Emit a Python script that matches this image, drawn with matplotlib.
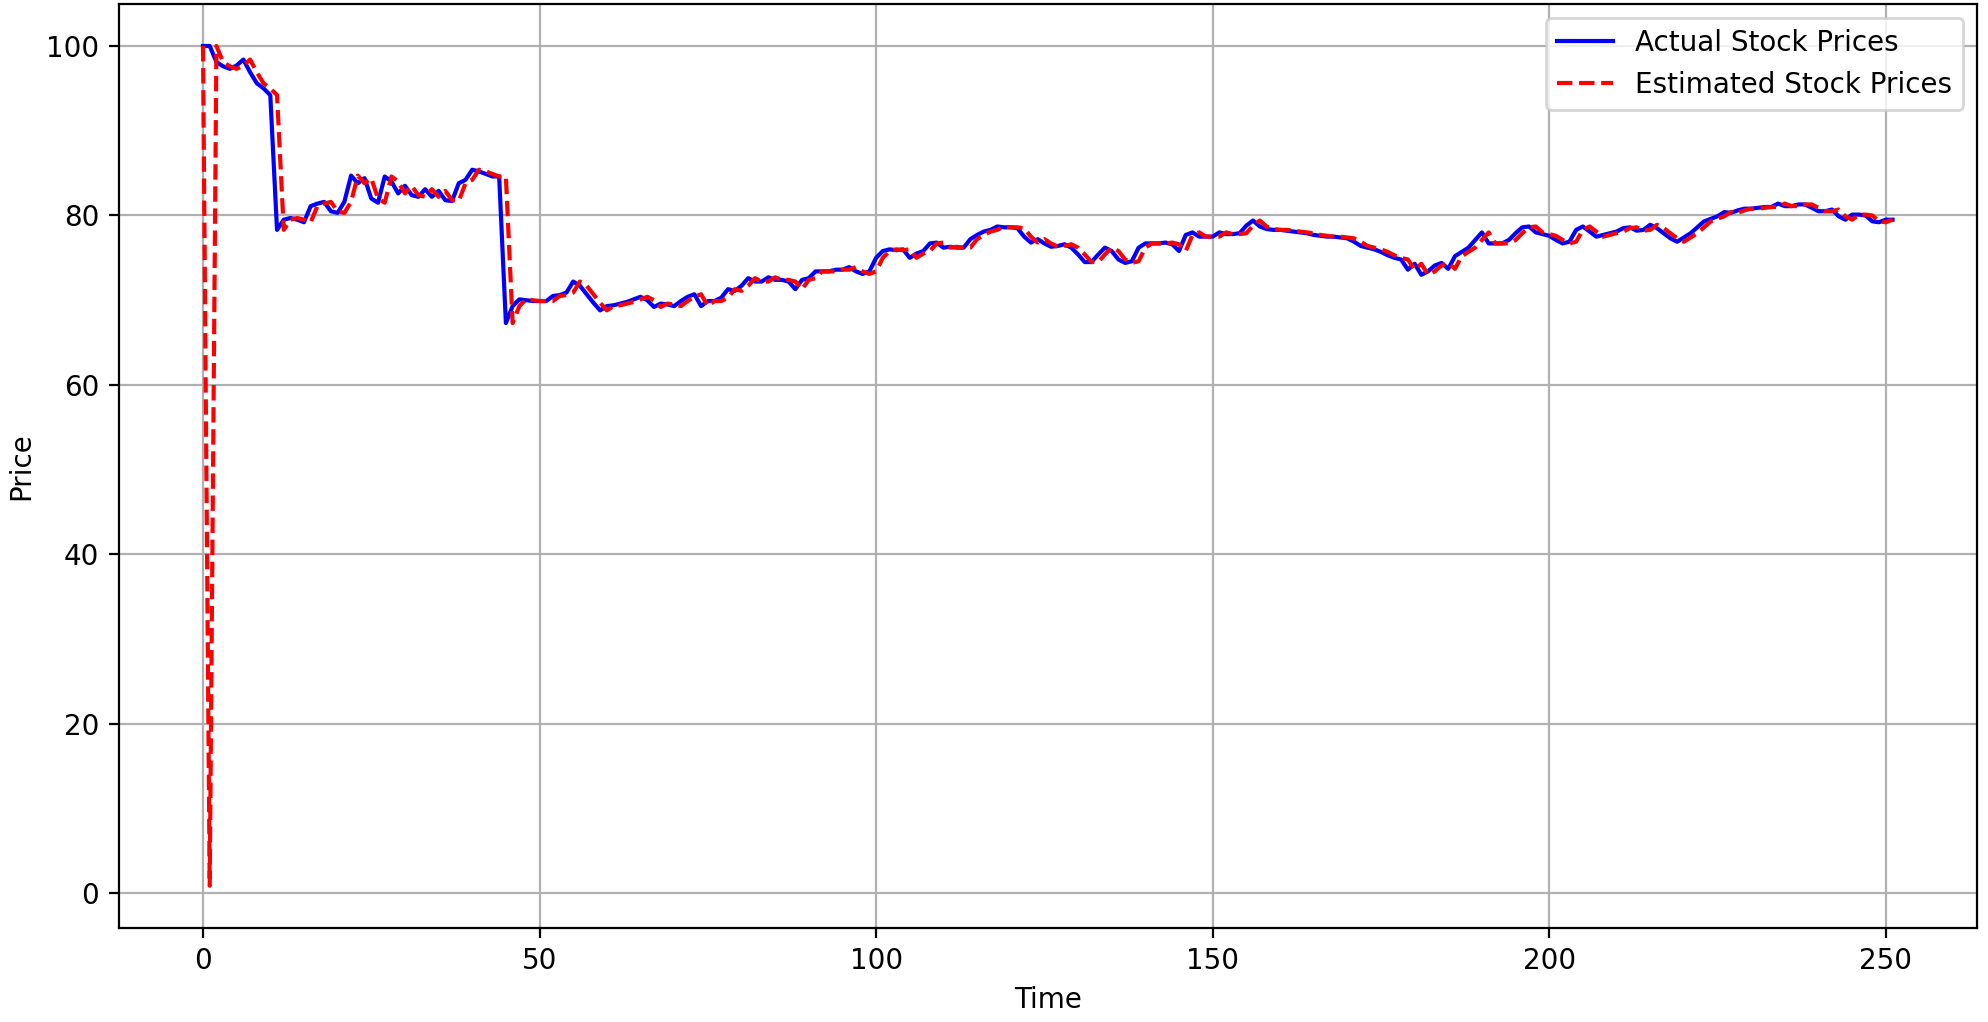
import matplotlib
matplotlib.use("Agg")
import matplotlib.pyplot as plt

actual_prices = [
    100.0, 100.0, 98.1, 97.6, 97.3, 97.7, 98.4, 96.9, 95.6, 95.0,
    94.2, 78.3, 79.5, 79.7, 79.5, 79.2, 81.1, 81.4, 81.6, 80.5,
    80.3, 81.6, 84.7, 83.8, 84.4, 82.0, 81.5, 84.6, 84.0, 82.6,
    83.5, 82.4, 82.2, 83.1, 82.2, 82.9, 81.8, 81.7, 83.8, 84.2,
    85.4, 85.2, 84.9, 84.6, 84.6, 67.3, 69.3, 70.1, 70.0, 69.9,
    69.9, 69.9, 70.5, 70.6, 70.9, 72.2, 71.7, 70.7, 69.7, 68.8,
    69.3, 69.4, 69.6, 69.8, 70.1, 70.4, 70.0, 69.2, 69.6, 69.5,
    69.3, 69.9, 70.4, 70.7, 69.3, 69.9, 69.9, 70.3, 71.3, 71.1,
    71.7, 72.6, 72.2, 72.2, 72.7, 72.4, 72.4, 72.2, 71.3, 72.4,
    72.6, 73.4, 73.4, 73.4, 73.6, 73.6, 73.9, 73.4, 73.1, 73.4,
    75.0, 75.8, 76.0, 75.9, 76.0, 75.0, 75.5, 75.8, 76.7, 76.8,
    76.2, 76.3, 76.2, 76.2, 77.2, 77.7, 78.1, 78.3, 78.7, 78.6,
    78.6, 78.5, 77.5, 76.8, 77.2, 76.7, 76.3, 76.4, 76.6, 76.2,
    75.4, 74.5, 74.5, 75.4, 76.2, 75.8, 74.8, 74.4, 74.6, 76.2,
    76.7, 76.7, 76.7, 76.8, 76.6, 75.8, 77.7, 78.0, 77.5, 77.5,
    77.5, 78.0, 77.8, 77.8, 77.9, 78.8, 79.4, 78.7, 78.4, 78.3,
    78.3, 78.2, 78.1, 78.0, 77.9, 77.7, 77.6, 77.5, 77.5, 77.4,
    77.3, 76.9, 76.4, 76.2, 76.0, 75.7, 75.3, 75.0, 74.8, 73.6,
    74.3, 73.0, 73.4, 74.1, 74.4, 73.7, 75.2, 75.7, 76.2, 77.1,
    78.0, 76.7, 76.7, 76.7, 77.1, 77.9, 78.6, 78.7, 78.0, 77.8,
    77.6, 77.1, 76.7, 76.9, 78.3, 78.7, 78.1, 77.5, 77.7, 77.9,
    78.1, 78.5, 78.6, 78.2, 78.3, 78.9, 78.5, 77.9, 77.3, 76.9,
    77.4, 77.9, 78.6, 79.3, 79.6, 79.9, 80.4, 80.3, 80.6, 80.8,
    80.8, 80.9, 81.0, 81.0, 81.4, 81.1, 81.1, 81.3, 81.3, 80.9,
    80.5, 80.5, 80.7, 79.9, 79.5, 80.1, 80.1, 80.0, 79.3, 79.2,
    79.5, 79.5,
]

estimated_prices = [
    100.0, 0.9, 100.0, 98.1, 97.6, 97.3, 97.7, 98.4, 96.9, 95.6,
    95.0, 94.2, 78.3, 79.5, 79.7, 79.5, 79.2, 81.1, 81.4, 81.6,
    80.5, 80.3, 81.6, 84.7, 83.8, 84.4, 82.0, 81.5, 84.6, 84.0,
    82.6, 83.5, 82.4, 82.2, 83.1, 82.2, 82.9, 81.8, 81.7, 83.8,
    84.2, 85.4, 85.2, 84.9, 84.6, 84.6, 67.3, 69.3, 70.1, 70.0,
    69.9, 69.9, 69.9, 70.5, 70.6, 70.9, 72.2, 71.7, 70.7, 69.7,
    68.8, 69.3, 69.4, 69.6, 69.8, 70.1, 70.4, 70.0, 69.2, 69.6,
    69.5, 69.3, 69.9, 70.4, 70.7, 69.3, 69.9, 69.9, 70.3, 71.3,
    71.1, 71.7, 72.6, 72.2, 72.2, 72.7, 72.4, 72.4, 72.2, 71.3,
    72.4, 72.6, 73.4, 73.4, 73.4, 73.6, 73.6, 73.9, 73.4, 73.1,
    73.4, 75.0, 75.8, 76.0, 75.9, 76.0, 75.0, 75.5, 75.8, 76.7,
    76.8, 76.2, 76.3, 76.2, 76.2, 77.2, 77.7, 78.1, 78.3, 78.7,
    78.6, 78.6, 78.5, 77.5, 76.8, 77.2, 76.7, 76.3, 76.4, 76.6,
    76.2, 75.4, 74.5, 74.5, 75.4, 76.2, 75.8, 74.8, 74.4, 74.6,
    76.2, 76.7, 76.7, 76.7, 76.8, 76.6, 75.8, 77.7, 78.0, 77.5,
    77.5, 77.5, 78.0, 77.8, 77.8, 77.9, 78.8, 79.4, 78.7, 78.4,
    78.3, 78.3, 78.2, 78.1, 78.0, 77.9, 77.7, 77.6, 77.5, 77.5,
    77.4, 77.3, 76.9, 76.4, 76.2, 76.0, 75.7, 75.3, 75.0, 74.8,
    73.6, 74.3, 73.0, 73.4, 74.1, 74.4, 73.7, 75.2, 75.7, 76.2,
    77.1, 78.0, 76.7, 76.7, 76.7, 77.1, 77.9, 78.6, 78.7, 78.0,
    77.8, 77.6, 77.1, 76.7, 76.9, 78.3, 78.7, 78.1, 77.5, 77.7,
    77.9, 78.1, 78.5, 78.6, 78.2, 78.3, 78.9, 78.5, 77.9, 77.3,
    76.9, 77.4, 77.9, 78.6, 79.3, 79.6, 79.9, 80.4, 80.3, 80.6,
    80.8, 80.8, 80.9, 81.0, 81.0, 81.4, 81.1, 81.1, 81.3, 81.3,
    80.9, 80.5, 80.5, 80.7, 79.9, 79.5, 80.1, 80.1, 80.0, 79.3,
    79.2, 79.5,
]

time_index = list(range(len(actual_prices)))

W, H, DPI = 1988, 1022, 200
fig = plt.figure(figsize=(W / DPI, H / DPI), dpi=DPI)
ax = fig.add_axes([118.5 / W, (H - 927.7) / H, 1858.5 / W, 923.7 / H])

ax.plot(time_index, actual_prices, "b-", label="Actual Stock Prices")
ax.plot(time_index, estimated_prices, "r--", label="Estimated Stock Prices")
ax.set_xlabel("Time")
ax.set_ylabel("Price")
ax.legend(loc="upper right")
ax.grid(True)

fig.savefig("out.png", dpi=DPI)
